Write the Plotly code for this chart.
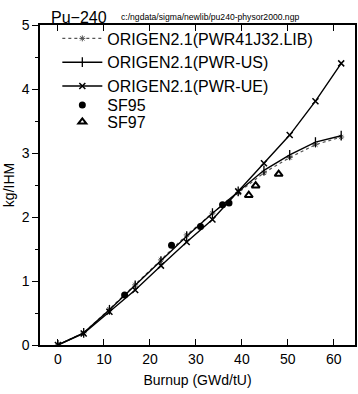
import plotly.graph_objects as go

burnup = [0, 5.6, 11.2, 16.8, 22.4, 28.0, 33.6, 39.2, 44.8, 50.4, 56.0, 61.6]
pwr41j32 = [0, 0.19, 0.56, 0.94, 1.33, 1.72, 2.06, 2.38, 2.69, 2.93, 3.13, 3.25]
pwr_us = [0, 0.19, 0.55, 0.93, 1.31, 1.70, 2.06, 2.40, 2.73, 2.97, 3.17, 3.27]
pwr_ue = [0, 0.18, 0.52, 0.86, 1.24, 1.61, 1.96, 2.40, 2.84, 3.28, 3.81, 4.40]

sf95_x = [14.5, 24.7, 31.0, 35.8, 37.2]
sf95_y = [0.78, 1.56, 1.85, 2.19, 2.22]
sf97_x = [41.5, 43.0, 48.0]
sf97_y = [2.34, 2.49, 2.67]

FONT = "Liberation Sans, Arial, sans-serif"

fig = go.Figure()
fig.add_trace(go.Scatter(x=burnup, y=pwr41j32, mode="lines+markers",
                         name="ORIGEN2.1(PWR41J32.LIB)",
                         line=dict(color="#555555", width=1.2, dash="dot"),
                         marker=dict(symbol="asterisk-open", size=5, color="#555555",
                                     line=dict(width=1, color="#555555"))))
fig.add_trace(go.Scatter(x=burnup, y=pwr_us, mode="lines+markers",
                         name="ORIGEN2.1(PWR-US)",
                         line=dict(color="black", width=1.4),
                         marker=dict(symbol="line-ns-open", size=7,
                                     line=dict(width=1.3, color="black"))))
fig.add_trace(go.Scatter(x=burnup, y=pwr_ue, mode="lines+markers",
                         name="ORIGEN2.1(PWR-UE)",
                         line=dict(color="black", width=1.4),
                         marker=dict(symbol="x-thin-open", size=6,
                                     line=dict(width=1.5, color="black"))))
fig.add_trace(go.Scatter(x=sf95_x, y=sf95_y, mode="markers", name="SF95",
                         legend="legend2",
                         marker=dict(symbol="circle", size=7, color="black")))
fig.add_trace(go.Scatter(x=sf97_x, y=sf97_y, mode="markers", name="SF97",
                         legend="legend3",
                         marker=dict(symbol="triangle-up-open", size=7, color="black",
                                     line=dict(width=2, color="black"))))

axis_common = dict(showgrid=False, zeroline=False, linecolor="black", linewidth=1.5,
                   tickcolor="black", tickfont=dict(family=FONT, size=14, color="black"))

leg_common = dict(xanchor="left", bgcolor="rgba(0,0,0,0)",
                  font=dict(family=FONT, size=16), itemwidth=40, tracegroupgap=0)

fig.update_layout(
    width=358, height=394,
    margin=dict(l=40, r=1, t=25, b=49),
    plot_bgcolor="white", paper_bgcolor="white",
    font=dict(family=FONT, color="black"),
    showlegend=True,
    legend=dict(x=0.055, y=1.011, yanchor="top", **leg_common),
    legend2=dict(x=0.055, y=0.75, yanchor="middle", **leg_common),
    legend3=dict(x=0.055, y=0.697, yanchor="middle", **leg_common),
    xaxis=dict(range=[-3.9, 64.6], tickvals=[0, 10, 20, 30, 40, 50, 60],
               ticks="inside", ticklen=6, mirror="ticks",
               title=dict(text="Burnup (GWd/tU)", font=dict(family=FONT, size=14), standoff=10),
               **axis_common),
    yaxis=dict(range=[0, 5], tickvals=[0, 1, 2, 3, 4, 5],
               ticks="outside", ticklen=6, mirror=True,
               minor=dict(tickvals=[0.5, 1.5, 2.5, 3.5, 4.5], ticks="outside", ticklen=3,
                          tickcolor="black"),
               title=dict(text="kg/IHM", font=dict(family=FONT, size=14), standoff=4),
               **axis_common),
    yaxis2=dict(range=[0, 5], overlaying="y", side="right", anchor="x",
                tickvals=[0, 1, 2, 3, 4, 5], ticks="inside", ticklen=6,
                minor=dict(tickvals=[0.5, 1.5, 2.5, 3.5, 4.5], ticks="inside", ticklen=3,
                           tickcolor="black"),
                showticklabels=False, showgrid=False, zeroline=False,
                showline=False, tickcolor="black"),
)

fig.add_annotation(text="Pu\u2212240", xref="paper", yref="paper", x=0.03, y=1.0,
                   xanchor="left", yanchor="bottom", showarrow=False,
                   font=dict(family=FONT, size=16, color="black"), yshift=-3)
fig.add_annotation(text="c:/ngdata/sigma/newlib/pu240-physor2000.ngp", xref="paper",
                   yref="paper", x=0.25, y=1.0, xanchor="left", yanchor="bottom",
                   showarrow=False, font=dict(family=FONT, size=8.6, color="black"), yshift=1)

fig.write_html("out.html")
